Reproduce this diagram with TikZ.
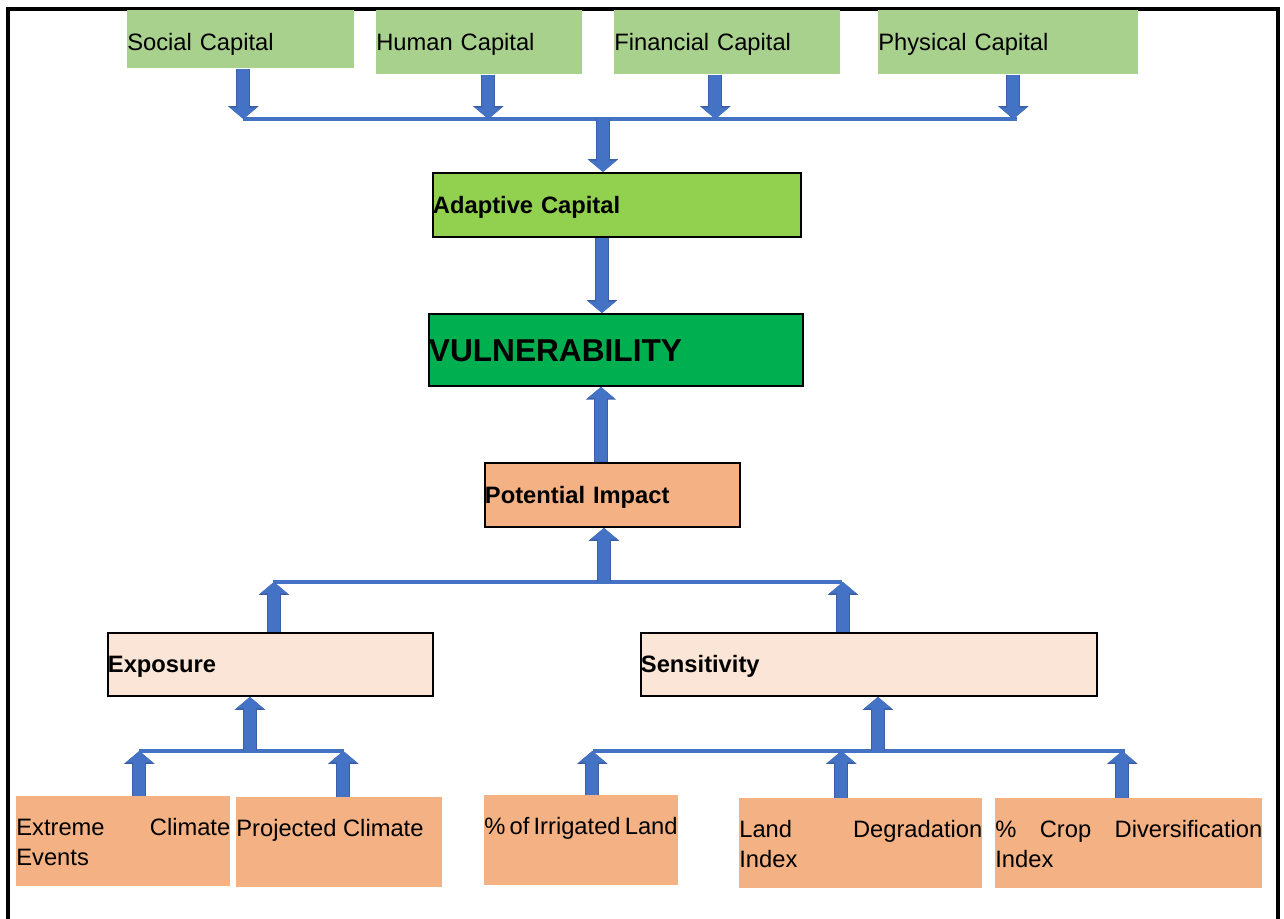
\documentclass[tikz,border=0pt]{standalone}
\usepackage{fontspec}
\setmainfont{Liberation Sans}
\usepackage{xcolor}
\usetikzlibrary{arrows.meta}
\definecolor{capgreen}{HTML}{A9D18E}
\definecolor{adaptgreen}{HTML}{92D050}
\definecolor{vulngreen}{HTML}{00B050}
\definecolor{impactorange}{HTML}{F4B183}
\definecolor{exposurepeach}{HTML}{FBE5D6}
\definecolor{arrowblue}{HTML}{4472C4}
\definecolor{arrowedge}{HTML}{3A5FA8}
\newcommand\boxfont{\fontsize{13.5}{17.5}\selectfont}
\newcommand\leafspacing{\spaceskip=3.75pt plus 30pt\relax}
\newcommand\tightspacing{\spaceskip=2.4pt plus 1pt minus 0.5pt\relax}

\begin{document}
\hyphenpenalty=10000
\exhyphenpenalty=10000
\begin{tikzpicture}[x=0.02cm, y=-0.02cm,
        every node/.style={anchor=north west, inner sep=0pt, font=\boxfont},
        capbox/.style={fill=capgreen, text width=#1, align=left, text height=9.7pt, text depth=0pt},
        midbox/.style={draw, line width=1.1pt, text width=#1, align=left, text height=9.7pt, text depth=0pt,
            font={\boxfont\bfseries}},
        leafbox/.style={fill=impactorange, text width=#1, align=justify, text height=22pt, text depth=29pt,
            font={\boxfont\leafspacing}},
        blockarrow/.style={arrowblue, line width=6.8pt, -{Triangle[length=6.5pt,width=15pt]},
            preaction={draw=arrowedge, line width=8pt, -{Triangle[length=7.3pt,width=17pt]}}},
        barline/.style={arrowblue, line width=2.8pt}]
    \useasboundingbox (0,0) rectangle (1284,919);
    \draw[line width=2pt] (8,919) -- (8,9) -- (1278,9) -- (1278,919);

    \node[capbox=4.54cm, minimum height=1.16cm, text height=12.4pt] (social) at (127,10) {Social Capital};
    \node[capbox=4.12cm, minimum height=1.28cm] (human) at (376,10) {Human Capital};
    \node[capbox=4.52cm, minimum height=1.28cm] (financial) at (614,10) {Financial Capital};
    \node[capbox=5.2cm, minimum height=1.28cm] (physical) at (878,10) {Physical Capital};

    \node[midbox=7.36cm, minimum height=1.28cm, fill=adaptgreen] (adaptive) at (432,172) {Adaptive Capital};
    \node[midbox=7.48cm, minimum height=1.44cm, fill=vulngreen, text height=12.9pt,
        font={\fontsize{18}{22}\selectfont\bfseries}] (vuln) at (428,313) {VULNERABILITY};
    \node[midbox=5.1cm, minimum height=1.28cm, fill=impactorange] (impact) at (484,462) {Potential Impact};
    \node[midbox=6.5cm, minimum height=1.26cm, fill=exposurepeach] (exposure) at (107,632) {Exposure};
    \node[midbox=9.12cm, minimum height=1.26cm, fill=exposurepeach] (sensitivity) at (640,632) {Sensitivity};

    \node[leafbox=4.28cm] (extreme) at (16,796) {Extreme Climate Events};
    \node[leafbox=4.12cm] (projected) at (236,797) {Projected Climate};
    \node[leafbox=3.88cm] (irrigated) at (484,795) {\tightspacing\% of Irrigated Land};
    \node[leafbox=4.86cm] (degradation) at (739,798) {Land Degradation Index};
    \node[leafbox=5.34cm] (crop) at (995,798) {\% Crop Diversification Index};

    \coordinate (capbarL) at (243,119);
    \coordinate (capbarR) at (1017,119);
    \coordinate (riskbarL) at (273,582);
    \coordinate (riskbarR) at (842,582);
    \coordinate (expbarL) at (139,751);
    \coordinate (expbarR) at (344,751);
    \coordinate (sensbarL) at (593,751);
    \coordinate (sensbarR) at (1125,751);

    \draw[barline] (capbarL) -- (capbarR);
    \draw[blockarrow] ([xshift=0.05cm]social.south) -- ([xshift=0.05cm]social.south |- capbarL);
    \draw[blockarrow] ([xshift=0.18cm]human.south) -- ([xshift=0.18cm]human.south |- capbarL);
    \draw[blockarrow] ([xshift=-0.24cm]financial.south) -- ([xshift=-0.24cm]financial.south |- capbarL);
    \draw[blockarrow] ([xshift=0.1cm]physical.south) -- ([xshift=0.1cm]physical.south |- capbarL);
    \draw[blockarrow] ([xshift=-0.28cm]adaptive.north |- capbarL) -- ([xshift=-0.28cm]adaptive.north);
    \draw[blockarrow] ([xshift=-0.3cm]adaptive.south) -- ([xshift=-0.3cm]adaptive.south |- vuln.north);
    \draw[blockarrow] ([xshift=-0.23cm]impact.north) -- ([xshift=-0.23cm]impact.north |- vuln.south);

    \draw[barline] (riskbarL) -- (riskbarR);
    \draw[blockarrow] ([xshift=-0.17cm]impact.south |- riskbarL) -- ([xshift=-0.17cm]impact.south);
    \draw[blockarrow] ([xshift=0.07cm]exposure.north) -- ([xshift=0.07cm]exposure.north |- riskbarL);
    \draw[blockarrow] ([xshift=-0.52cm]sensitivity.north) -- ([xshift=-0.52cm]sensitivity.north |- riskbarL);

    \draw[barline] (expbarL) -- (expbarR);
    \draw[blockarrow] ([xshift=-0.41cm]exposure.south |- expbarL) -- ([xshift=-0.41cm]exposure.south);
    \draw[blockarrow] ([xshift=0.32cm]extreme.north) -- ([xshift=0.32cm]extreme.north |- expbarL);
    \draw[blockarrow] ([xshift=0.08cm]projected.north) -- ([xshift=0.08cm]projected.north |- expbarL);

    \draw[barline] (sensbarL) -- (sensbarR);
    \draw[blockarrow] ([xshift=0.18cm]sensitivity.south |- sensbarL) -- ([xshift=0.18cm]sensitivity.south);
    \draw[blockarrow] ([xshift=0.22cm]irrigated.north) -- ([xshift=0.22cm]irrigated.north |- sensbarL);
    \draw[blockarrow] ([xshift=-0.39cm]degradation.north) -- ([xshift=-0.39cm]degradation.north |- sensbarL);
    \draw[blockarrow] ([xshift=-0.13cm]crop.north) -- ([xshift=-0.13cm]crop.north |- sensbarL);
\end{tikzpicture}
\end{document}
